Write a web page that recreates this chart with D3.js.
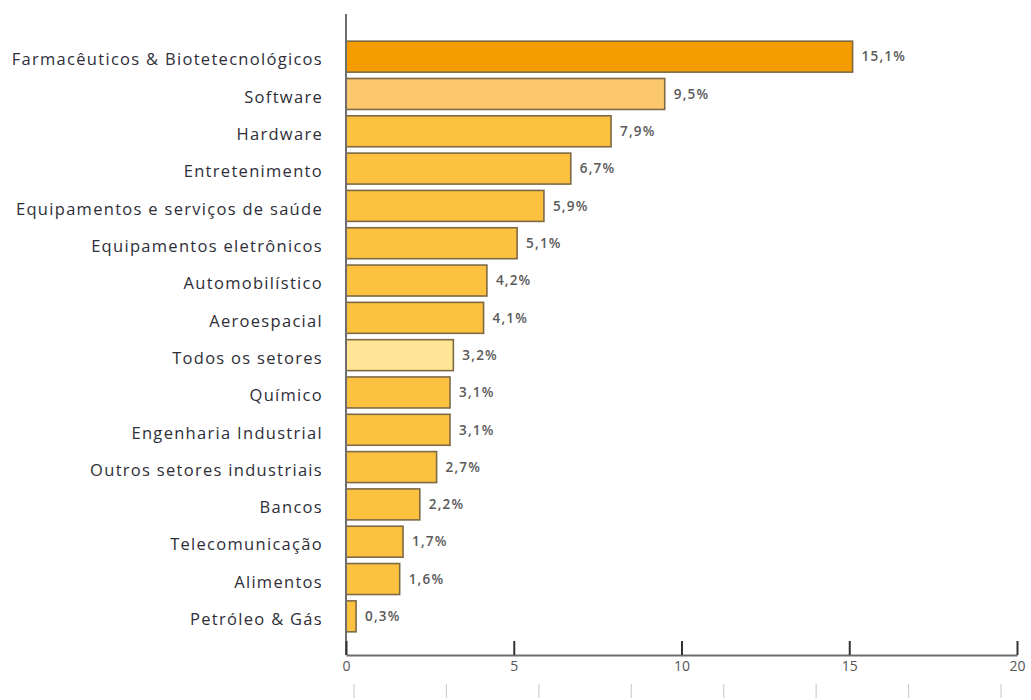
<!DOCTYPE html>
<html lang="pt">
<head>
<meta charset="utf-8">
<script src="https://cdn.jsdelivr.net/npm/d3@7"></script>
<style>
  html, body { margin: 0; padding: 0; background: #fff; }
  svg { display: block; }
</style>
</head>
<body>
<svg id="chart" width="1031" height="700"></svg>
<script>
// Setores e intensidade de P&D (% da receita)
const sectors = [
  "Farmacêuticos & Biotetecnológicos",
  "Software",
  "Hardware",
  "Entretenimento",
  "Equipamentos e serviços de saúde",
  "Equipamentos eletrônicos",
  "Automobilístico",
  "Aeroespacial",
  "Todos os setores",
  "Químico",
  "Engenharia Industrial",
  "Outros setores industriais",
  "Bancos",
  "Telecomunicação",
  "Alimentos",
  "Petróleo & Gás"
];
const values = [15.1, 9.5, 7.9, 6.7, 5.9, 5.1, 4.2, 4.1, 3.2, 3.1, 3.1, 2.7, 2.2, 1.7, 1.6, 0.3];
const xTicks = [0, 5, 10, 15, 20];
const lowerTicks = [0, 1, 2, 3, 4, 5, 6, 7];

const fills = {
  "Farmacêuticos & Biotetecnológicos": "#F59C00",
  "Software": "#FBC86B",
  "Todos os setores": "#FFE595"
};
const defaultFill = "#FCC23F";

const svg = d3.select("#chart");
const labelFont = "'Open Sans', Lato, sans-serif";

const x = d3.scaleLinear().domain([0, 20]).range([346, 1017]);
const y = d3.scaleBand().domain(sectors).range([38, 635]).paddingInner(0.17).paddingOuter(0.085);

// Bars
svg.append("g").selectAll("rect")
  .data(sectors)
  .join("rect")
  .attr("x", x(0))
  .attr("y", d => y(d))
  .attr("width", (d, i) => x(values[i]) - x(0))
  .attr("height", y.bandwidth())
  .attr("fill", d => fills[d] || defaultFill)
  .attr("stroke", "#7d6a45")
  .attr("stroke-width", 1.6);

// Value labels
svg.append("g").selectAll("text")
  .data(sectors)
  .join("text")
  .attr("x", (d, i) => x(values[i]) + 9)
  .attr("y", d => y(d) + y.bandwidth() / 2)
  .attr("dy", "0.35em")
  .attr("font-family", labelFont)
  .attr("font-size", 13.5)
  .attr("font-weight", 600)
  .attr("letter-spacing", 1.2)
  .attr("fill", "#5a5a5a")
  .text((d, i) => d3.format(".1f")(values[i]).replace(".", ",") + "%");

// Category labels
svg.append("g").selectAll("text")
  .data(sectors)
  .join("text")
  .attr("x", 323)
  .attr("y", d => y(d) + y.bandwidth() / 2 + 3)
  .attr("dy", "0.35em")
  .attr("text-anchor", "end")
  .attr("font-family", labelFont)
  .attr("font-size", 16.5)
  .attr("letter-spacing", 1.3)
  .attr("fill", "#2e2e38")
  .text(d => d);

// Vertical axis line
svg.append("line")
  .attr("x1", x(0)).attr("x2", x(0))
  .attr("y1", 14).attr("y2", 655)
  .attr("stroke", "#6e6e6e")
  .attr("stroke-width", 2);

// Bottom axis with upward ticks
const xAxis = d3.axisBottom(x).tickValues(xTicks).tickSizeInner(-14).tickSizeOuter(0).tickPadding(6);
const gx = svg.append("g").attr("transform", "translate(0,655)").call(xAxis);
gx.select(".domain").attr("stroke", "#6e6e6e").attr("stroke-width", 2);
gx.selectAll(".tick line").attr("stroke", "#333").attr("stroke-width", 2);
gx.selectAll(".tick text")
  .attr("font-family", labelFont)
  .attr("font-size", 14)
  .attr("fill", "#555");

// Faint tick marks below the axis
const xLower = d3.scaleLinear().domain([0, 7]).range([354, 1001]);
svg.append("g").selectAll("line")
  .data(lowerTicks)
  .join("line")
  .attr("x1", d => xLower(d)).attr("x2", d => xLower(d))
  .attr("y1", 684).attr("y2", 698)
  .attr("stroke", "#cfcfcf")
  .attr("stroke-width", 1.2);
</script>
</body>
</html>
